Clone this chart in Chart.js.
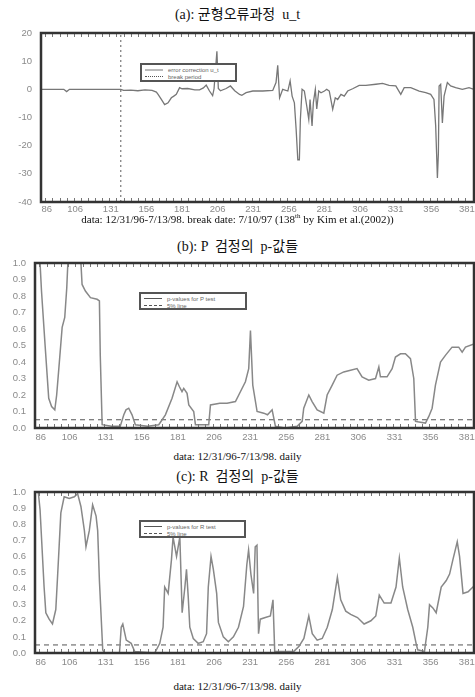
<!DOCTYPE html>
<html><head><meta charset="utf-8">
<script src="https://cdn.jsdelivr.net/npm/chart.js@4.4.1/dist/chart.umd.min.js"></script>
<style>
html,body{margin:0;padding:0;background:#fff;}
#wrap{position:relative;width:475px;height:697px;overflow:hidden;background:#fff;}
canvas{position:absolute;left:0;}
.title{position:absolute;left:0;width:475px;text-align:center;font-family:"Liberation Serif","Noto Sans CJK KR",serif;font-size:14px;line-height:16px;color:#111;white-space:pre;}
.cap{position:absolute;left:0;width:475px;text-align:center;font-family:"Liberation Serif",serif;font-size:11px;line-height:13px;color:#111;white-space:pre;z-index:2;}
.cap sup{font-size:7px;line-height:0;}
.leg{position:absolute;box-sizing:border-box;border:2px solid #555;background:#fff;font-family:"Liberation Sans",sans-serif;font-size:6px;color:#666;padding:1px 3px;z-index:3;}
.row{display:flex;align-items:center;height:7px;white-space:nowrap;}
.smp{display:inline-block;width:18px;margin-right:5px;}
</style></head>
<body><div id="wrap">
<div class="title" style="top:7px">(a): 균형오류과정  u_t</div>
<canvas id="ca" width="475" height="193" style="top:25px"></canvas>
<div class="cap" style="top:213px">data: 12/31/96-7/13/98. break date: 7/10/97 (138<sup>th</sup> by Kim et al.(2002))</div>
<div class="leg" style="left:140px;top:63px;width:97px;height:19px">
  <div class="row"><span class="smp" style="border-top:2px solid #bbb"></span>error correction u_t</div>
  <div class="row"><span class="smp" style="border-top:1px dotted #555"></span>break period</div>
</div>

<div class="title" style="top:239px">(b): P  검정의  p-값들</div>
<canvas id="cb" width="475" height="189" style="top:255px"></canvas>
<div class="cap" style="top:450px">data: 12/31/96-7/13/98. daily</div>
<div class="leg" style="left:139px;top:292px;width:108px;height:18px">
  <div class="row"><span class="smp" style="border-top:1px solid #555"></span>p-values for P test</div>
  <div class="row"><span class="smp" style="border-top:1px dashed #555"></span>5% line</div>
</div>

<div class="title" style="top:469px">(c): R  검정의  p-값들</div>
<canvas id="cc" width="475" height="185" style="top:484px"></canvas>
<div class="cap" style="top:680px">data: 12/31/96-7/13/98. daily</div>
<div class="leg" style="left:139px;top:520px;width:107px;height:18px">
  <div class="row"><span class="smp" style="border-top:1px solid #555"></span>p-values for R test</div>
  <div class="row"><span class="smp" style="border-top:1px dashed #555"></span>5% line</div>
</div>
</div>
<script>
// ---- data ----
const xTicks = [86,106,131,156,181,206,231,256,281,306,331,356,381];
const uTicks = [20,10,0,-10,-20,-30,-40];
const pTicks = [1.0,0.9,0.8,0.7,0.6,0.5,0.4,0.3,0.2,0.1,0.0];
const breakDate = 138;
const fivePct = 0.05;

const uX = [82,98,100,102,138,140,145,150,155,160,163,164.2,166.5,168.8,171.2,173.5,175,177,179.3,181,185,190,193.3,196,198,200.3,202.5,203.5,205.5,206.5,208,212,215,218,221.4,223,226,230.7,237.7,244.7,247,248.2,249.5,251.7,255.3,256.9,258.3,259.9,261.1,262.3,263.4,264.1,265.3,266.9,268.6,270,270.9,272.3,273.2,274.6,275.6,277,278.6,281,282.6,284.4,286.8,288.6,290.3,292.6,294.9,297.3,300.8,305.4,310.1,317.1,321.8,326.4,331.1,334.6,337,341.6,347.5,352.1,355.6,357.9,359.1,360.3,361,361.5,362.6,363.8,365,367.3,369.6,373.1,377.8,382.5,386];
const uY = [0,0,-0.8,0,0,-0.4,-0.3,-0.5,-0.2,-0.4,-1.0,-1.8,-3.6,-5.4,-4.8,-3.0,-2.5,-1.8,0.6,0.2,0.3,-0.2,-0.2,0.5,1.5,-0.6,-2.2,0.2,13.5,0.3,-0.5,0.3,1.2,-0.5,-1.8,-2.1,-1.2,-0.6,-0.6,-0.4,2.4,8.5,-3,0,-0.6,3,-2.4,-4.8,-14,-25,-25,-10.7,0,-0.6,-6,-10.7,-3.6,-13,-4.8,0,-7,-0.6,-1.2,-0.6,0,-0.6,-7.1,-3,-3.6,-1.8,-2.4,-0.6,0.2,1.4,1.4,1.8,2.1,1.4,1.2,-1.8,0.6,0.6,-0.6,-1.2,-1.8,-3.6,-13,-31.5,-22.6,1.2,1.8,-11.9,-2.4,2.4,1.2,0.6,0,0.6,0];

const pX = [83,85.5,86.5,89,91.5,93.5,95.7,97,98.5,100.8,102.6,104,105,113.5,114.6,116.9,120.4,125,126.6,127.2,128.5,135,141,143.5,145,146.9,149.2,151.5,160,167.7,172.3,176.9,180.4,182,183.8,185,187.3,188.5,191.9,193.1,202.3,203.5,210,215,220.8,223.1,227.7,230,231.2,232.8,235.8,240.4,243,246.2,248.5,255,263.5,267,268.1,271.6,273.9,277.4,282,284.3,287.8,291.2,295.8,300.5,305,308.5,313.1,317.8,320.1,321.2,325.8,329.3,331.6,335.1,338.5,342,344.3,345.5,352.4,354.7,357,359.3,362.8,366.2,370.8,375.4,377.8,380.1,386];
const pY = [1.1,1.0,0.83,0.5,0.18,0.13,0.11,0.2,0.36,0.61,0.67,0.85,1.05,1.05,0.87,0.83,0.79,0.78,0.77,0.44,0.02,0.01,0.01,0.08,0.11,0.12,0.08,0.02,0.01,0.02,0.08,0.18,0.28,0.25,0.22,0.24,0.21,0.14,0.10,0.02,0.02,0.14,0.15,0.15,0.16,0.20,0.28,0.36,0.59,0.26,0.10,0.09,0.08,0.11,0.01,0.0,0.01,0.04,0.12,0.20,0.16,0.11,0.09,0.20,0.26,0.32,0.34,0.35,0.36,0.31,0.29,0.30,0.37,0.31,0.31,0.36,0.43,0.45,0.45,0.42,0.30,0.04,0.03,0.07,0.12,0.26,0.40,0.44,0.49,0.49,0.46,0.49,0.51];

const rX = [83.7,85.5,88.3,89.5,91.8,94.1,96.4,97.6,98.7,99.9,102.2,105.7,109.2,111.5,113.8,116.2,117.3,119.6,121.9,124.3,125.4,126.6,128.9,130,140.5,141.7,142.8,145.2,148.6,151,164.9,168.4,170.7,171.8,174.2,176.5,177.6,178.8,180,182.3,183.9,185.8,186.9,188.1,189.2,191.6,195,198.5,200.8,202,203.9,205.5,207.8,209,212.4,215.9,219.4,222.9,226.4,228.7,229.9,231.5,233.4,234.5,235.7,236.8,238,241.5,245,246.8,248,261.2,264.7,268.2,271.6,274,277.4,280.9,284.4,287.9,291.4,293.7,297.2,300.6,305.3,309.9,314.6,318,320.4,323.8,328.5,332,334.3,336.6,340.1,343.6,345.9,347,351.7,354,355.2,357.5,359.8,363.3,366.8,369.1,371.4,374.4,376,378.4,381.9,386.5];
const rY = [1.05,0.89,0.41,0.25,0.21,0.18,0.27,0.47,0.66,0.87,0.97,0.96,0.97,0.99,0.91,0.76,0.66,0.76,0.92,0.85,0.76,0.45,0.02,0.0,0.0,0.16,0.18,0.08,0.06,0.01,0.0,0.06,0.16,0.41,0.37,0.58,0.72,0.66,0.60,0.72,0.25,0.41,0.52,0.35,0.16,0.09,0.06,0.07,0.12,0.41,0.60,0.52,0.37,0.19,0.10,0.07,0.10,0.16,0.29,0.55,0.64,0.49,0.37,0.66,0.67,0.12,0.21,0.22,0.23,0.33,0.01,0.01,0.04,0.09,0.23,0.12,0.08,0.09,0.16,0.27,0.47,0.33,0.26,0.24,0.22,0.18,0.20,0.23,0.36,0.31,0.31,0.41,0.59,0.41,0.27,0.16,0.06,0.02,0.01,0.16,0.30,0.28,0.25,0.41,0.45,0.49,0.58,0.69,0.60,0.37,0.38,0.42];

const X_MIN = 82, X_MAX = 386;

// ---- rendering ----
Chart.defaults.font.family = '"Liberation Sans", sans-serif';
const pts = (xs, ys) => xs.map((x, i) => ({x, y: ys[i]}));

const framePlugin = {
  id: 'frame',
  afterDatasetsDraw(chart) {
    const {ctx, chartArea: a, scales: {x}} = chart;
    ctx.save();
    ctx.strokeStyle = '#777'; ctx.lineWidth = 1;
    ctx.beginPath();
    for (let v = 85; v <= X_MAX; v += 5) {
      const px = Math.round(x.getPixelForValue(v)) + 0.5;
      ctx.moveTo(px, a.top); ctx.lineTo(px, a.top + 4);
      ctx.moveTo(px, a.bottom); ctx.lineTo(px, a.bottom - 4);
    }
    ctx.stroke();
    ctx.strokeStyle = '#333'; ctx.lineWidth = 2.5;
    ctx.strokeRect(a.left, a.top, a.right - a.left, a.bottom - a.top);
    ctx.restore();
  }
};

function make(id, datasets, yMin, yMax, yTicks, yWidth, xPad, yFmt) {
  return new Chart(document.getElementById(id), {
    type: 'line',
    data: {datasets},
    plugins: [framePlugin],
    options: {
      responsive: false, animation: false, devicePixelRatio: 1,
      layout: {padding: {top: 8, right: 1, left: 0, bottom: 0}},
      plugins: {legend: {display: false}, tooltip: {enabled: false}},
      elements: {point: {radius: 0}, line: {tension: 0}},
      scales: {
        x: {
          type: 'linear', min: X_MIN, max: X_MAX,
          grid: {display: false, drawTicks: false}, border: {display: false},
          afterBuildTicks: s => { s.ticks = xTicks.map(v => ({value: v})); },
          afterFit: s => { s.height = 16; s.paddingLeft = 0; s.paddingRight = 0; },
          ticks: {autoSkip: false, maxRotation: 0, padding: xPad, font: {size: 9.5}, color: '#8a8a8a', callback: v => String(v)}
        },
        y: {
          type: 'linear', min: yMin, max: yMax,
          grid: {display: false, drawTicks: false}, border: {display: false},
          afterBuildTicks: s => { s.ticks = yTicks.map(v => ({value: v})); },
          afterFit: s => { s.width = yWidth; s.paddingTop = 0; s.paddingBottom = 0; },
          ticks: {autoSkip: false, padding: 9, font: {size: 9.5}, color: '#8a8a8a', callback: yFmt}
        }
      }
    }
  });
}

make('ca', [
  {data: pts(uX, uY), borderColor: '#777', borderWidth: 1.3},
  {data: [{x: breakDate, y: -40}, {x: breakDate, y: 20}], borderColor: '#777', borderWidth: 1.2, borderDash: [2, 3]}
], -40, 20, uTicks, 41, 2, v => String(v));

make('cb', [
  {data: pts(pX, pY), borderColor: '#888', borderWidth: 1.5},
  {data: [{x: X_MIN, y: fivePct}, {x: X_MAX, y: fivePct}], borderColor: '#555', borderWidth: 1, borderDash: [5, 4]}
], 0, 1, pTicks, 35, 4, v => Number(v).toFixed(1));

make('cc', [
  {data: pts(rX, rY), borderColor: '#888', borderWidth: 1.5},
  {data: [{x: X_MIN, y: fivePct}, {x: X_MAX, y: fivePct}], borderColor: '#555', borderWidth: 1, borderDash: [5, 4]}
], 0, 1, pTicks, 35, 4, v => Number(v).toFixed(1));
</script>
</body></html>
